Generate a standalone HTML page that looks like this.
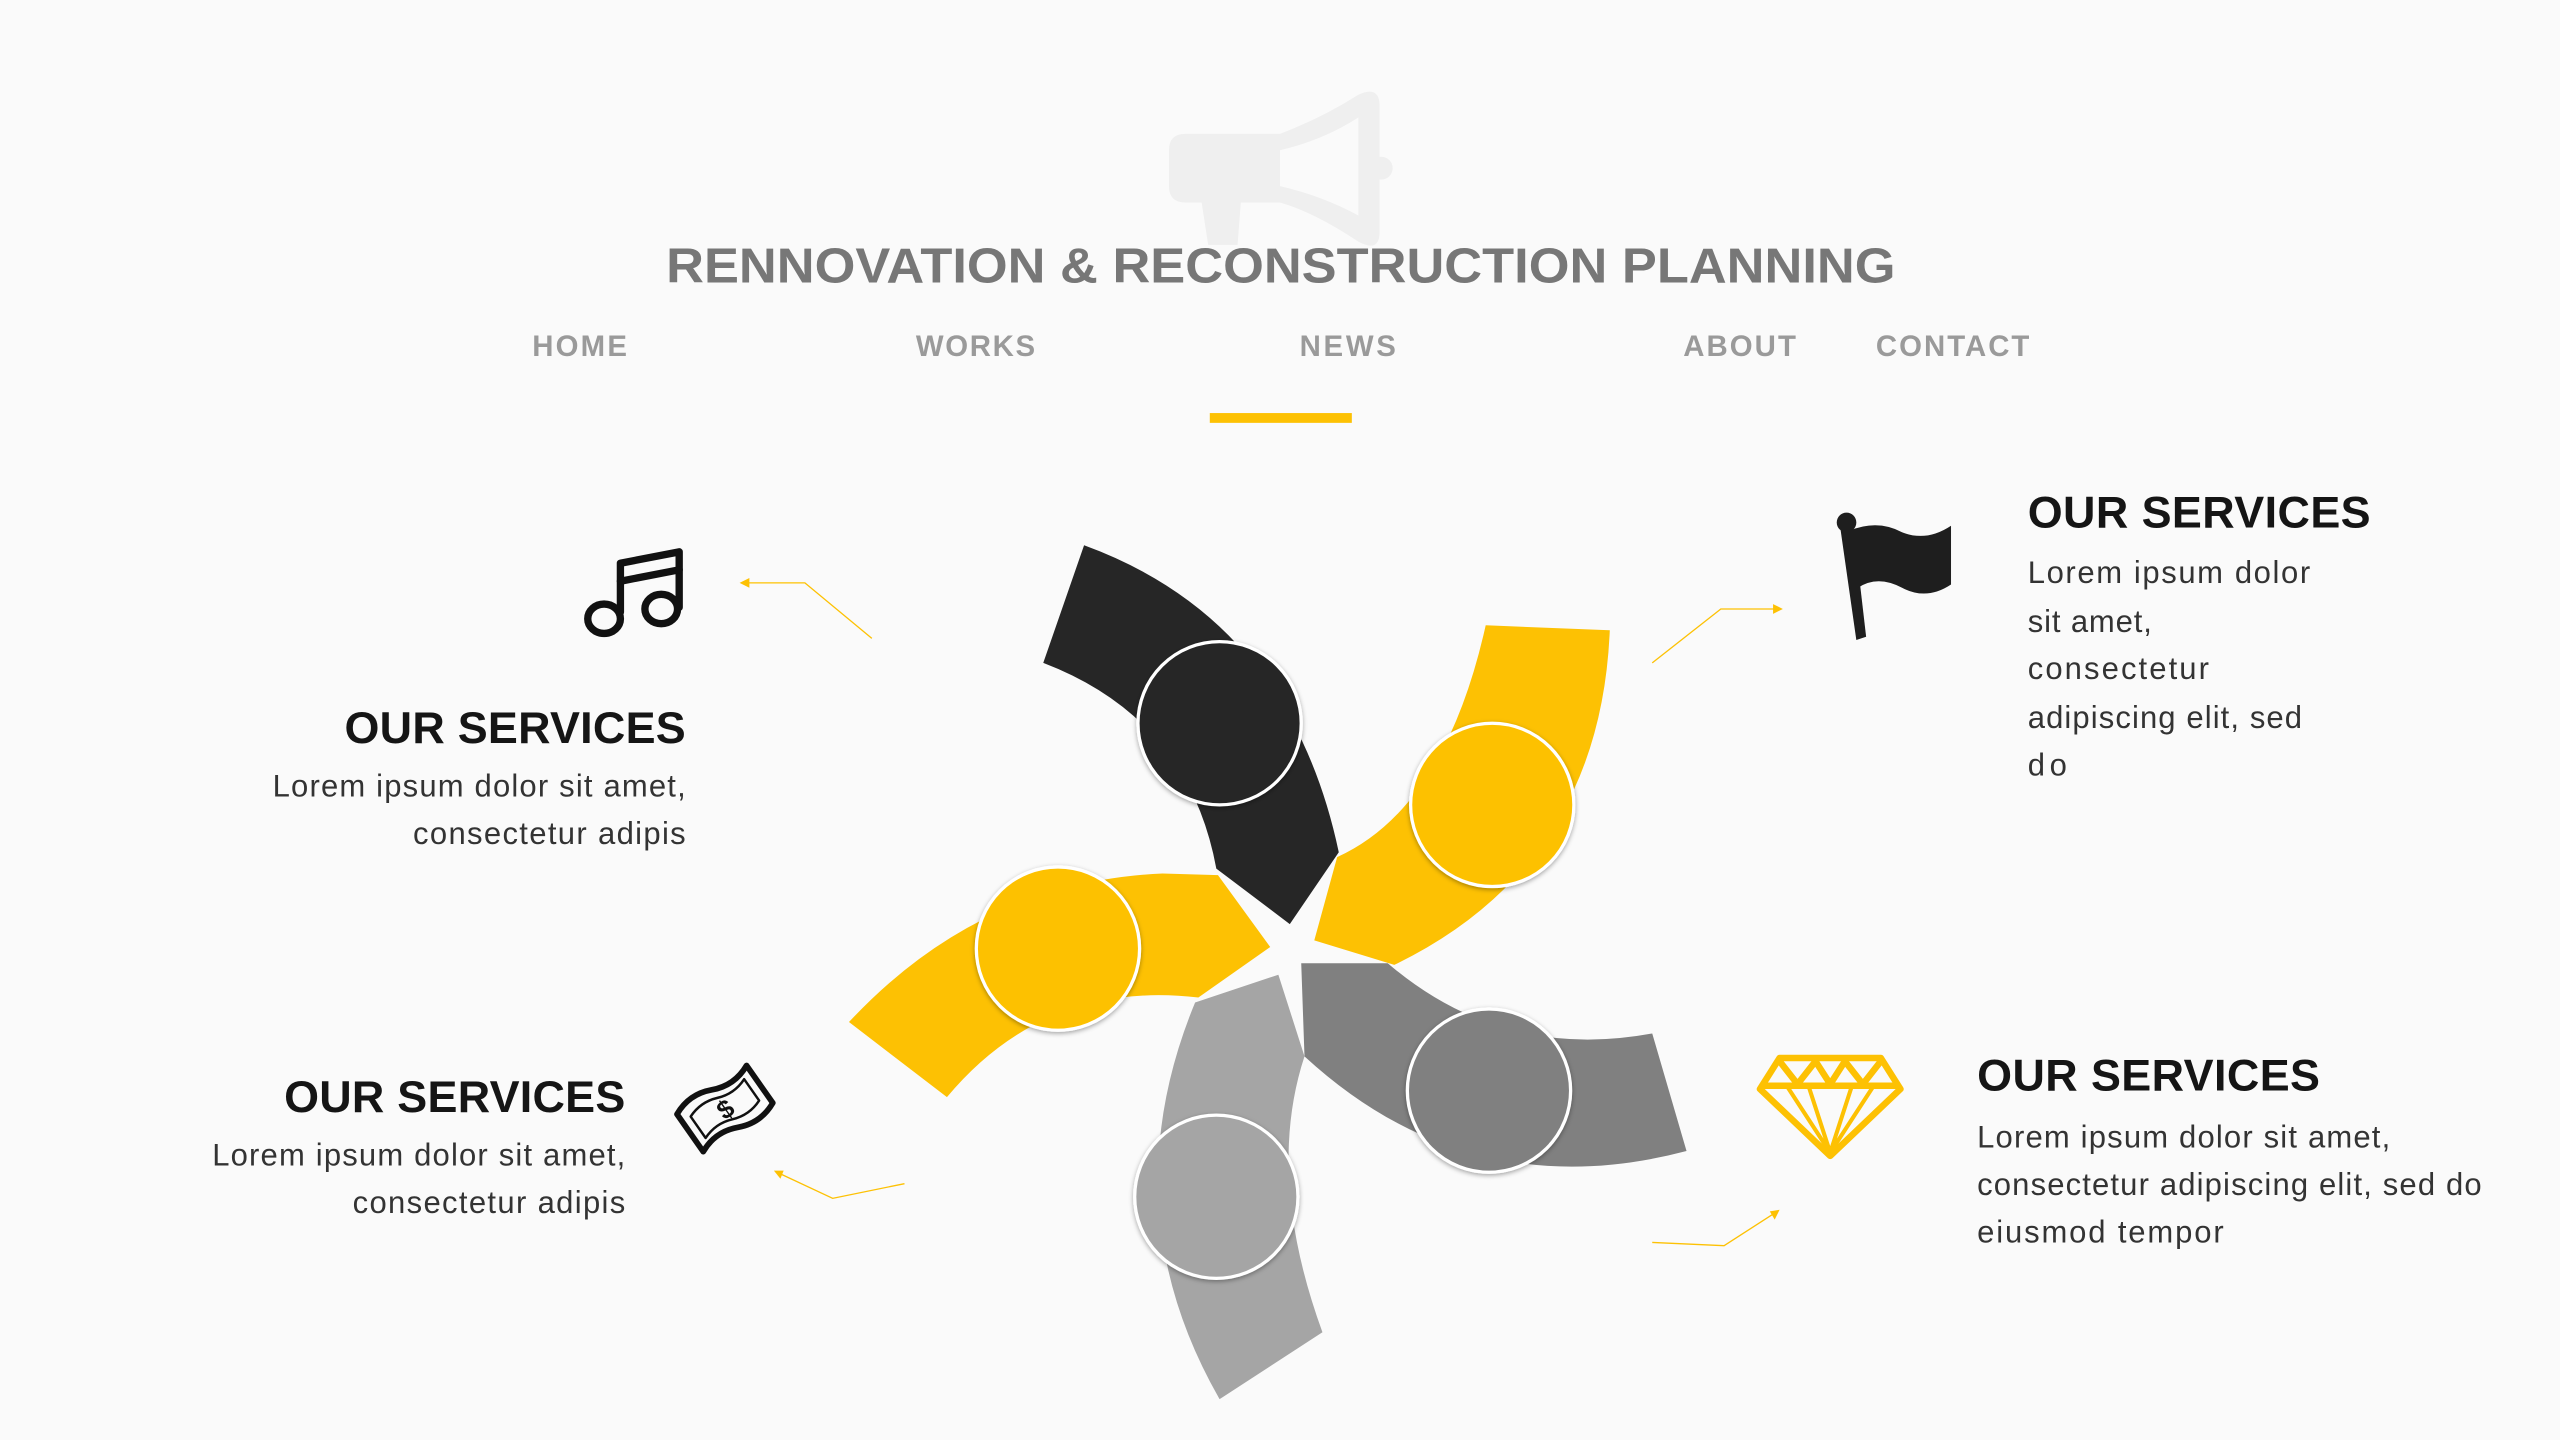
<!DOCTYPE html>
<html><head><meta charset="utf-8"><style>
html,body{margin:0;padding:0;background:#fafafa;}
svg{display:block;}
text{font-family:"Liberation Sans",sans-serif;}
</style></head><body>
<svg width="2560" height="1440" viewBox="0 0 1568 882" xmlns="http://www.w3.org/2000/svg">
<defs>
<filter id="sh" x="-30%" y="-30%" width="160%" height="160%"><feDropShadow dx="0" dy="1" stdDeviation="1.5" flood-color="#000" flood-opacity="0.35"/></filter>
</defs>
<rect width="1568" height="882" fill="#fafafa"/>
<!-- megaphone -->
<g fill="#efefef">
<path d="M726,82 L784,82 Q810,72 832,58 Q845,52 845,65 L845,142 Q845,155 832,148 Q805,130 784,124 L760,124 L758,150 L740,150 L736,124 L726,124 Q716,124 716,114 L716,92 Q716,82 726,82 Z M784,92 L784,114 Q810,120 832,132 L832,72 Q810,86 784,92 Z" fill-rule="evenodd"/>
<circle cx="846" cy="103" r="7"/>
</g>
<text x="408" y="173" textLength="753" lengthAdjust="spacingAndGlyphs" font-size="30" font-weight="bold" fill="#777">RENNOVATION &amp; RECONSTRUCTION PLANNING</text>
<g font-size="18" font-weight="bold" fill="#9a9a9a" lengthAdjust="spacingAndGlyphs">
<text x="326" y="218" textLength="58">HOME</text>
<text x="561" y="218" textLength="73">WORKS</text>
<text x="796" y="218" textLength="59">NEWS</text>
<text x="1031" y="218" textLength="69">ABOUT</text>
<text x="1149" y="218" textLength="94">CONTACT</text>
</g>
<rect x="741" y="253" width="87" height="6" fill="#fdc103"/>

<!-- arms -->
<path d="M639,406 L664,334 Q790,380 820,522 L790,566 L745,532 Q728,440 639,406 Z" fill="#262626"/>
<path d="M910,383 L986,386 Q980,530 854,591 L805,576 L819,525 Q885,495 910,383 Z" fill="#fdc103"/>
<path d="M520,626 Q600,540 712,535 L746,536 L778,580 L734,611 Q640,600 580,672 Z" fill="#fdc103"/>
<path d="M732,614 L783,597 L799,647 Q775,720 810,816 L747,857 Q680,740 732,614 Z" fill="#a5a5a5"/>
<path d="M797,590 L850,590 Q920,650 1012,633 L1033,705 Q900,740 799,647 Z" fill="#808080"/>
<g stroke="#fff" stroke-width="2" filter="url(#sh)">
<circle cx="747" cy="443" r="50" fill="#262626"/>
<circle cx="914" cy="493" r="50" fill="#fdc103"/>
<circle cx="648" cy="581" r="50" fill="#fdc103"/>
<circle cx="912" cy="668" r="50" fill="#808080"/>
<circle cx="745" cy="733" r="50" fill="#a5a5a5"/>
</g>

<!-- connectors -->
<g stroke="#fdc103" stroke-width="0.8" fill="none">
<polyline points="534,391 493,357 458,357"/>
<polyline points="1012,406 1054,373 1088,373"/>
<polyline points="554,725 510,734 478,719"/>
<polyline points="1012,761 1056,763 1087,743"/>
</g>
<g fill="#fdc103">
<path d="M453,357 L459,354 L459,360 Z"/>
<path d="M1092,373 L1086,370 L1086,376 Z"/>
<path d="M474,717 L480,717 L478,722 Z"/>
<path d="M1090,741 L1087,747 L1084,742 Z"/>
</g>

<!-- music icon -->
<g stroke="#111" stroke-width="4.5" fill="none" stroke-linejoin="round" stroke-linecap="round">
<path d="M380,375 L380,345 L416,338 L416,372"/>
<line x1="380" y1="356" x2="416" y2="349"/>
<ellipse cx="370" cy="379" rx="10" ry="9"/>
<ellipse cx="405" cy="373" rx="10" ry="9"/>
</g>
<!-- flag icon -->
<g fill="#1e1e1e">
<circle cx="1131" cy="320" r="6"/>
<path d="M1127,322 L1135,321 L1143,390 L1137,392 Z"/>
<path d="M1133,325 Q1150,318 1165,326 Q1180,332 1195,322 L1195,358 Q1180,368 1165,360 Q1150,352 1138,360 Z"/>
</g>
<!-- money icon -->
<g transform="translate(444,679) rotate(-35)" stroke="#111" stroke-width="3.5" fill="none" stroke-linejoin="round">
<path d="M-26,-14 Q-13,-20 0,-14 Q13,-8 26,-14 L26,14 Q13,20 0,14 Q-13,8 -26,14 Z"/>
<path d="M-20,-8 Q-10,-12 0,-8 Q10,-4 20,-8 L20,8 Q10,12 0,8 Q-10,4 -20,8 Z" stroke-width="1.5"/>
<text x="0" y="6" text-anchor="middle" font-size="16" font-weight="bold" fill="#111" stroke="none">$</text>
</g>
<!-- diamond icon -->
<g stroke="#fdc103" stroke-width="4" fill="none" stroke-linejoin="round" stroke-linecap="round">
<path d="M1090,648 L1152,648 L1164,667 L1121,708 L1078,667 Z"/>
<line x1="1080" y1="665" x2="1162" y2="665"/>
<path d="M1090,650 L1101,664 L1112,650 L1121,664 L1130,650 L1141,664 L1152,650"/>
<path d="M1095,666 L1121,706 M1108,666 L1121,706 M1134,666 L1121,706 M1147,666 L1121,706" stroke-width="2.5"/>
</g>

<!-- texts -->
<g font-size="27.5" font-weight="bold" fill="#151515" lengthAdjust="spacingAndGlyphs">
<text x="211" y="455" textLength="209">OUR SERVICES</text>
<text x="174" y="681" textLength="209">OUR SERVICES</text>
<text x="1242" y="323" textLength="210">OUR SERVICES</text>
<text x="1211" y="668" textLength="210">OUR SERVICES</text>
</g>
<g font-size="19" fill="#333" lengthAdjust="spacingAndGlyphs">
<text x="167" y="488" textLength="253">Lorem ipsum dolor sit amet,</text>
<text x="253" y="517" textLength="167">consectetur adipis</text>
<text x="130" y="714" textLength="253">Lorem ipsum dolor sit amet,</text>
<text x="216" y="743" textLength="167">consectetur adipis</text>
<text x="1242" y="357" textLength="173">Lorem ipsum dolor</text>
<text x="1242" y="387" textLength="76">sit amet,</text>
<text x="1242" y="416" textLength="111">consectetur</text>
<text x="1242" y="446" textLength="168">adipiscing elit, sed</text>
<text x="1242" y="475" textLength="24">do</text>
<text x="1211" y="703" textLength="253">Lorem ipsum dolor sit amet,</text>
<text x="1211" y="732" textLength="309">consectetur adipiscing elit, sed do</text>
<text x="1211" y="761" textLength="151">eiusmod tempor</text>
</g>
</svg>
</body></html>
